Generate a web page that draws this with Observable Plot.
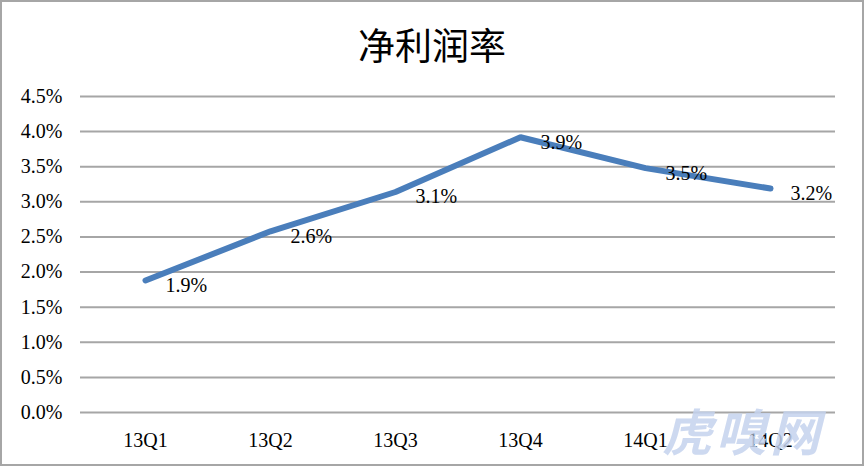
<!DOCTYPE html>
<html><head><meta charset="utf-8">
<script src="https://cdn.jsdelivr.net/npm/d3@7"></script>
<script src="https://cdn.jsdelivr.net/npm/@observablehq/plot@0.6"></script>
<style>
body{margin:0;background:#fff;}
#wrap{position:relative;width:864px;height:466px;overflow:hidden;background:#fff;}
#title{height:80px;line-height:88px;text-align:center;font-family:"Noto Sans CJK SC";font-size:37px;color:#000;}
#frame{position:absolute;left:0;top:0;width:864px;height:466px;box-sizing:border-box;border:2px solid #a6a6a6;pointer-events:none;}
#wm{position:absolute;left:662px;top:400px;font-family:"Noto Sans CJK SC";font-weight:bold;font-style:italic;font-size:50px;line-height:58px;color:#c5d3ee;letter-spacing:4px;opacity:0.85;}
svg{display:block;}
</style></head>
<body>
<div id="wrap">
<div id="title">净利润率</div>
<div id="chart"></div>
<div id="wm">虎嗅网</div>
<div id="frame"></div>
</div>
<script>
const quarters = ["13Q1","13Q2","13Q3","13Q4","14Q1","14Q2"];
const margin = [1.88, 2.58, 3.14, 3.92, 3.48, 3.19];
const labels = ["1.9%","2.6%","3.1%","3.9%","3.5%","3.2%"];
const yTicks = [0,0.5,1,1.5,2,2.5,3,3.5,4,4.5];

const data = quarters.map((q,i)=>({q, v: margin[i], label: labels[i]}));

const chart = Plot.plot({
  width: 864,
  height: 386,
  marginLeft: 80,
  marginRight: 29,
  marginTop: 16,
  marginBottom: 54,
  style: {fontFamily: "Liberation Serif", fontSize: "20px", color: "#000", background: "transparent"},
  x: {type: "point", domain: quarters, padding: 0.5, label: null},
  y: {domain: [0, 4.5], label: null},
  marks: [
    Plot.gridY(yTicks, {stroke: "#a6a6a6", strokeOpacity: 1, strokeWidth: 2}),
    Plot.axisY(yTicks, {tickSize: 0, tickPadding: 18, tickFormat: d => d.toFixed(1) + "%", fontSize: 20, fill: "#000"}),
    Plot.axisX({tickSize: 0, tickPadding: 20, fontSize: 20, fill: "#000"}),
    Plot.line(data, {x: "q", y: "v", stroke: "#4a7ebb", strokeWidth: 6, strokeLinecap: "round", strokeLinejoin: "miter"}),
    Plot.text(data, {x: "q", y: "v", text: "label", textAnchor: "start", dx: 20, dy: 5, fontSize: 20, fill: "#000"})
  ]
});
document.getElementById("chart").appendChild(chart);
</script>
</body></html>
